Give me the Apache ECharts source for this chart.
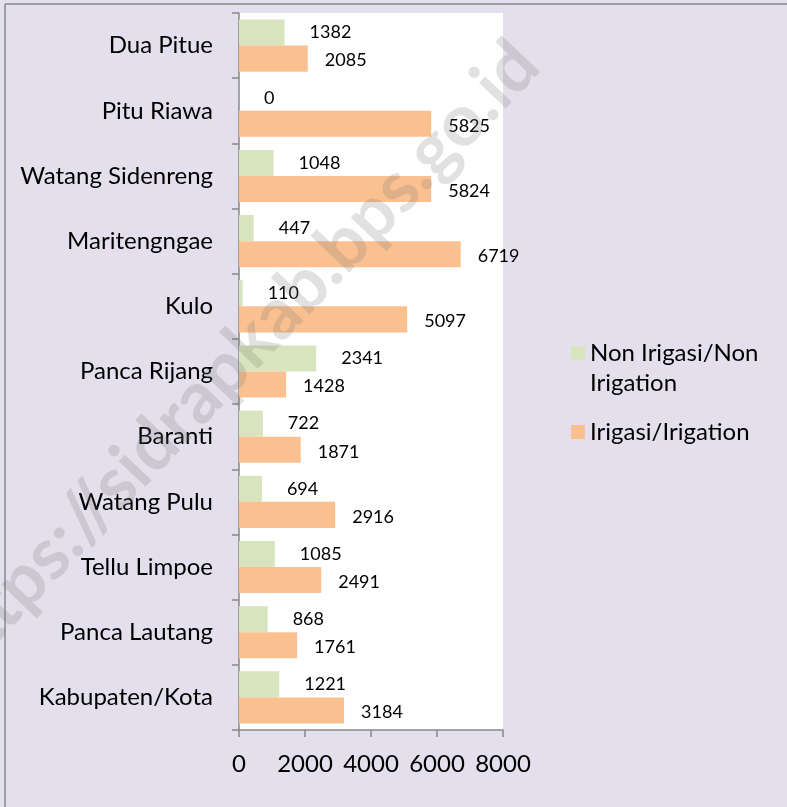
<!DOCTYPE html>
<html>
<head>
<meta charset="utf-8">
<script src="https://cdn.jsdelivr.net/npm/echarts@6/dist/echarts.min.js"></script>
<style>
  html, body { margin: 0; padding: 0; background: #e4dfec; }
  #main { width: 787px; height: 807px; }
</style>
</head>
<body>
<div id="main"></div>
<script>
// kecamatan (top to bottom)
var categories = ['Dua Pitue', 'Pitu Riawa', 'Watang Sidenreng', 'Maritengngae', 'Kulo',
  'Panca Rijang', 'Baranti', 'Watang Pulu', 'Tellu Limpoe', 'Panca Lautang', 'Kabupaten/Kota'];
var nonIrigasi = [1382, 0, 1048, 447, 110, 2341, 722, 694, 1085, 868, 1221];
var irigasi = [2085, 5825, 5824, 6719, 5097, 1428, 1871, 2916, 2491, 1761, 3184];
var xTicks = [0, 8000, 2000];

var fontFam = 'Lato, "Open Sans", sans-serif';

var myChart = echarts.init(document.getElementById('main'));
myChart.setOption({
  backgroundColor: '#e4dfec',
  animation: false,
  textStyle: { fontFamily: fontFam, color: '#000' },
  grid: {
    left: 239, right: 284, top: 13, bottom: 77,
    show: true, backgroundColor: '#fff', borderWidth: 0
  },
  legend: [
    {
      orient: 'vertical',
      left: 571, top: 341, padding: 0,
      itemWidth: 14, itemHeight: 14,
      icon: 'rect',
      data: ['Non Irigasi/Non Irigation'],
      // second line of this name is drawn below as graphic text
      formatter: function () { return 'Non Irigasi/Non'; },
      textStyle: { fontSize: 24, fontFamily: fontFam, color: '#000' }
    },
    {
      orient: 'vertical',
      left: 571, top: 420, padding: 0,
      itemWidth: 14, itemHeight: 14,
      icon: 'rect',
      data: ['Irigasi/Irigation'],
      textStyle: { fontSize: 24, fontFamily: fontFam, color: '#000' }
    }
  ],
  xAxis: {
    type: 'value',
    min: xTicks[0], max: xTicks[1], interval: xTicks[2],
    axisLine: { show: true, lineStyle: { color: '#888', width: 1.5 } },
    axisTick: { show: true, length: 7, lineStyle: { color: '#888', width: 1.5 } },
    splitLine: { show: false },
    axisLabel: {
      fontSize: 24, margin: 22, color: '#000', fontFamily: fontFam,
      formatter: function (v) { return String(v); }
    }
  },
  yAxis: {
    type: 'category',
    inverse: true,
    data: categories,
    axisLine: { show: true, lineStyle: { color: '#888', width: 1.5 } },
    axisTick: { show: true, length: 7, lineStyle: { color: '#888', width: 1.5 } },
    axisLabel: { fontSize: 24, margin: 26, color: '#000', fontFamily: fontFam }
  },
  series: [
    {
      name: 'Non Irigasi/Non Irigation',
      type: 'bar',
      data: nonIrigasi,
      barGap: '0%',
      barCategoryGap: '20%',
      itemStyle: { color: '#d7e4bd' },
      label: { show: true, position: 'right', distance: 25, fontSize: 18, color: '#000', fontFamily: fontFam }
    },
    {
      name: 'Irigasi/Irigation',
      type: 'bar',
      data: irigasi,
      barGap: '0%',
      barCategoryGap: '20%',
      itemStyle: { color: '#fac090' },
      label: { show: true, position: 'right', distance: 17, fontSize: 18, color: '#000', fontFamily: fontFam, offset: [0, 2] }
    }
  ],
  graphic: [
    {
      type: 'line',
      shape: { x1: 5, y1: 4, x2: 787, y2: 4 },
      style: { stroke: '#888', lineWidth: 1.5 }
    },
    {
      type: 'line',
      shape: { x1: 5, y1: 4, x2: 5, y2: 807 },
      style: { stroke: '#888', lineWidth: 1.5 }
    },
    {
      type: 'text',
      left: 590, top: 371,
      style: { text: 'Irigation', font: '24px ' + fontFam, fill: '#000' }
    },
    {
      type: 'text',
      x: 236, y: 358,
      rotation: 0.81,
      z: 100,
      style: {
        text: 'https://sidrapkab.bps.go.id',
        font: 'bold 72px ' + fontFam,
        fill: 'rgba(120,120,120,0.22)',
        textAlign: 'center',
        textVerticalAlign: 'middle'
      }
    }
  ]
});
</script>
</body>
</html>
